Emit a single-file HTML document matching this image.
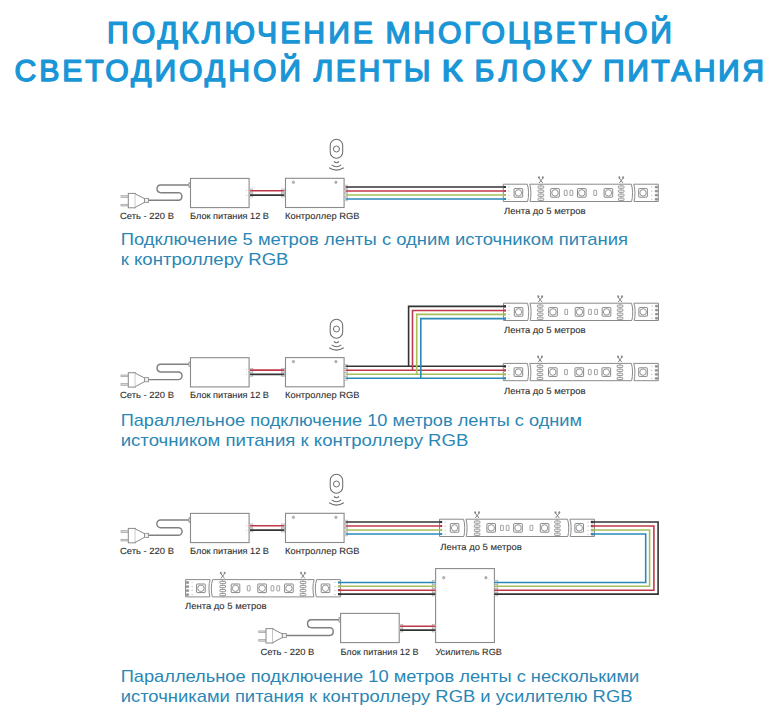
<!DOCTYPE html>
<html><head><meta charset="utf-8"><style>
html,body{margin:0;padding:0;background:#fff;}
body{width:778px;height:720px;overflow:hidden;}
svg{display:block;}
text{font-family:"Liberation Sans", sans-serif;}
</style></head><body>
<svg width="778" height="720" viewBox="0 0 778 720" font-family="Liberation Sans, sans-serif">
<rect width="778" height="720" fill="#fff"/>
<text x="107.0" y="43.2" font-size="30.2" fill="#1a96d6" font-weight="normal" text-anchor="start" textLength="266.0" lengthAdjust="spacing" stroke="#1a96d6" stroke-width="1.4" stroke-linejoin="round" text-rendering="geometricPrecision">ПОДКЛЮЧЕНИЕ</text>
<text x="385.5" y="43.2" font-size="30.2" fill="#1a96d6" font-weight="normal" text-anchor="start" textLength="286.5" lengthAdjust="spacing" stroke="#1a96d6" stroke-width="1.4" stroke-linejoin="round" text-rendering="geometricPrecision">МНОГОЦВЕТНОЙ</text>
<text x="14.5" y="81.2" font-size="30.2" fill="#1a96d6" font-weight="normal" text-anchor="start" textLength="286.5" lengthAdjust="spacing" stroke="#1a96d6" stroke-width="1.4" stroke-linejoin="round" text-rendering="geometricPrecision">СВЕТОДИОДНОЙ</text>
<text x="313.5" y="81.2" font-size="30.2" fill="#1a96d6" font-weight="normal" text-anchor="start" textLength="117.0" lengthAdjust="spacing" stroke="#1a96d6" stroke-width="1.4" stroke-linejoin="round" text-rendering="geometricPrecision">ЛЕНТЫ</text>
<text x="441.5" y="81.2" font-size="30.2" fill="#1a96d6" font-weight="normal" text-anchor="start" textLength="21.0" lengthAdjust="spacingAndGlyphs" stroke="#1a96d6" stroke-width="1.4" stroke-linejoin="round" text-rendering="geometricPrecision">К</text>
<text x="474.5" y="81.2" font-size="30.2" fill="#1a96d6" font-weight="normal" text-anchor="start" textLength="116.5" lengthAdjust="spacing" stroke="#1a96d6" stroke-width="1.4" stroke-linejoin="round" text-rendering="geometricPrecision">БЛОКУ</text>
<text x="603.0" y="81.2" font-size="30.2" fill="#1a96d6" font-weight="normal" text-anchor="start" textLength="161.0" lengthAdjust="spacing" stroke="#1a96d6" stroke-width="1.4" stroke-linejoin="round" text-rendering="geometricPrecision">ПИТАНИЯ</text>
<rect x="121.00" y="195.70" width="7.30" height="1.70" rx="0" fill="#d8d8d8" stroke="#a0a0a0" stroke-width="0.7"/>
<rect x="121.00" y="204.30" width="7.30" height="1.70" rx="0" fill="#d8d8d8" stroke="#a0a0a0" stroke-width="0.7"/>
<rect x="128.30" y="193.40" width="7.00" height="14.40" rx="0" fill="#fff" stroke="#8a8a8a" stroke-width="1"/>
<path d="M135.30,193.90 L144.60,198.70 L144.60,202.30 L135.30,207.30" fill="#fff" stroke="#8a8a8a" stroke-width="1" />
<rect x="144.60" y="198.30" width="4.00" height="4.20" rx="0" fill="#eee" stroke="#8a8a8a" stroke-width="0.8"/>
<path d="M148.60,200.30 H178.27 A3.83,3.83 0 0 0 178.27,192.65 H160.68 A3.83,3.83 0 0 1 160.68,185.00 H190.50" fill="none" stroke="#808080" stroke-width="1.45" />
<rect x="188.90" y="182.80" width="1.60" height="4.40" rx="0" fill="#eee" stroke="#8a8a8a" stroke-width="0.7"/>
<rect x="190.50" y="178.40" width="58.60" height="29.20" rx="0" fill="#fff" stroke="#8a8a8a" stroke-width="1.1"/>
<circle cx="246.6" cy="190.50" r="0.45" fill="#999"/>
<circle cx="246.6" cy="195.50" r="0.45" fill="#999"/>
<rect x="249.60" y="188.95" width="3.20" height="3.70" rx="0" fill="#f3f3f3" stroke="#a4a4a4" stroke-width="0.6"/>
<rect x="249.60" y="193.25" width="3.20" height="3.70" rx="0" fill="#f3f3f3" stroke="#a4a4a4" stroke-width="0.6"/>
<rect x="281.60" y="188.95" width="3.20" height="3.70" rx="0" fill="#f3f3f3" stroke="#a4a4a4" stroke-width="0.6"/>
<rect x="281.60" y="193.25" width="3.20" height="3.70" rx="0" fill="#f3f3f3" stroke="#a4a4a4" stroke-width="0.6"/>
<line x1="250.00" y1="190.80" x2="284.20" y2="190.80" stroke="#c0394a" stroke-width="1.6"/>
<line x1="250.00" y1="195.10" x2="284.20" y2="195.10" stroke="#333333" stroke-width="1.6"/>
<rect x="285.50" y="178.30" width="58.60" height="29.20" rx="0" fill="#fff" stroke="#8a8a8a" stroke-width="1.1"/>
<circle cx="293.40" cy="182.30" r="1.15" fill="#c8c8c8" stroke="#888" stroke-width="0.7"/>
<circle cx="335.90" cy="182.30" r="1.15" fill="#c8c8c8" stroke="#888" stroke-width="0.7"/>
<rect x="344.20" y="185.15" width="3.20" height="3.70" rx="0" fill="#f3f3f3" stroke="#a4a4a4" stroke-width="0.6"/>
<rect x="344.20" y="189.15" width="3.20" height="3.70" rx="0" fill="#f3f3f3" stroke="#a4a4a4" stroke-width="0.6"/>
<rect x="344.20" y="193.15" width="3.20" height="3.70" rx="0" fill="#f3f3f3" stroke="#a4a4a4" stroke-width="0.6"/>
<rect x="344.20" y="197.15" width="3.20" height="3.70" rx="0" fill="#f3f3f3" stroke="#a4a4a4" stroke-width="0.6"/>
<rect x="330.20" y="139.30" width="12.50" height="19.00" rx="6.25" fill="#fff" stroke="#6e6e6e" stroke-width="1.05"/>
<circle cx="336.45" cy="149.00" r="3.0" fill="none" stroke="#6e6e6e" stroke-width="1.0"/>
<path d="M333.95,161.50 Q336.45,163.90 338.95,161.50" fill="none" stroke="#6e6e6e" stroke-width="1.05" />
<path d="M331.65,164.90 Q336.45,168.50 341.25,164.90" fill="none" stroke="#6e6e6e" stroke-width="1.05" />
<path d="M329.15,167.70 Q336.45,172.50 343.75,167.70" fill="none" stroke="#6e6e6e" stroke-width="1.05" />
<text x="120.0" y="218.8" font-size="9.0" fill="#2e2e2e" font-weight="normal" text-anchor="start" textLength="54" lengthAdjust="spacingAndGlyphs" stroke="#2e2e2e" stroke-width="0.1" text-rendering="geometricPrecision">Сеть - 220 В</text>
<text x="190.0" y="218.8" font-size="9.0" fill="#2e2e2e" font-weight="normal" text-anchor="start" textLength="79" lengthAdjust="spacingAndGlyphs" stroke="#2e2e2e" stroke-width="0.1" text-rendering="geometricPrecision">Блок питания 12 В</text>
<text x="285.0" y="218.8" font-size="9.0" fill="#2e2e2e" font-weight="normal" text-anchor="start" textLength="74.5" lengthAdjust="spacingAndGlyphs" stroke="#2e2e2e" stroke-width="0.1" text-rendering="geometricPrecision">Контроллер RGB</text>
<g transform="translate(503.30,184.20)">
<path d="M0,0 H24.0 C25.6,4 25.6,13 24.3,17.3 H0 Z" fill="#fff" stroke="#8a8a8a" stroke-width="1.0" />
<path d="M26.4,0 H128.0 C129.6,4 129.6,13 128.3,17.3 H26.7 C28.0,13 28.0,4 26.4,0 Z" fill="#fff" stroke="#8a8a8a" stroke-width="1.0" />
<path d="M130.4,0 H155 V17.3 H130.7 C132.0,13 132.0,4 130.4,0 Z" fill="#fff" stroke="#8a8a8a" stroke-width="1.0" />
<circle cx="5.6" cy="2.90" r="0.55" fill="#aaa"/>
<circle cx="5.6" cy="6.95" r="0.55" fill="#aaa"/>
<circle cx="5.6" cy="11.00" r="0.55" fill="#aaa"/>
<circle cx="5.6" cy="15.05" r="0.55" fill="#aaa"/>
<circle cx="148.5" cy="2.90" r="0.55" fill="#aaa"/>
<rect x="151.90" y="2.00" width="2.40" height="1.80" rx="0.3" fill="#999" stroke="#777" stroke-width="0.5"/>
<circle cx="148.5" cy="6.95" r="0.55" fill="#aaa"/>
<rect x="151.90" y="6.05" width="2.40" height="1.80" rx="0.3" fill="#999" stroke="#777" stroke-width="0.5"/>
<circle cx="148.5" cy="11.00" r="0.55" fill="#aaa"/>
<rect x="151.90" y="10.10" width="2.40" height="1.80" rx="0.3" fill="#999" stroke="#777" stroke-width="0.5"/>
<circle cx="148.5" cy="15.05" r="0.55" fill="#aaa"/>
<rect x="151.90" y="14.15" width="2.40" height="1.80" rx="0.3" fill="#999" stroke="#777" stroke-width="0.5"/>
<rect x="10.80" y="4.40" width="8.60" height="8.60" rx="0.6" fill="#fff" stroke="#7a7a7a" stroke-width="0.9"/>
<circle cx="15.10" cy="8.70" r="3.20" fill="none" stroke="#8a8a8a" stroke-width="0.9"/>
<line x1="37.60" y1="0.00" x2="37.60" y2="17.30" stroke="#999" stroke-width="0.7"/>
<rect x="34.80" y="1.80" width="5.60" height="2.20" rx="0.5" fill="#fff" stroke="#7e7e7e" stroke-width="0.8"/>
<rect x="34.80" y="5.85" width="5.60" height="2.20" rx="0.5" fill="#fff" stroke="#7e7e7e" stroke-width="0.8"/>
<rect x="34.80" y="9.90" width="5.60" height="2.20" rx="0.5" fill="#fff" stroke="#7e7e7e" stroke-width="0.8"/>
<rect x="34.80" y="13.95" width="5.60" height="2.20" rx="0.5" fill="#fff" stroke="#7e7e7e" stroke-width="0.8"/>
<line x1="117.90" y1="0.00" x2="117.90" y2="17.30" stroke="#999" stroke-width="0.7"/>
<rect x="115.10" y="1.80" width="5.60" height="2.20" rx="0.5" fill="#fff" stroke="#7e7e7e" stroke-width="0.8"/>
<rect x="115.10" y="5.85" width="5.60" height="2.20" rx="0.5" fill="#fff" stroke="#7e7e7e" stroke-width="0.8"/>
<rect x="115.10" y="9.90" width="5.60" height="2.20" rx="0.5" fill="#fff" stroke="#7e7e7e" stroke-width="0.8"/>
<rect x="115.10" y="13.95" width="5.60" height="2.20" rx="0.5" fill="#fff" stroke="#7e7e7e" stroke-width="0.8"/>
<rect x="47.40" y="4.40" width="8.60" height="8.60" rx="0.6" fill="#fff" stroke="#7a7a7a" stroke-width="0.9"/>
<circle cx="51.70" cy="8.70" r="3.20" fill="none" stroke="#8a8a8a" stroke-width="0.9"/>
<rect x="74.20" y="4.40" width="8.60" height="8.60" rx="0.6" fill="#fff" stroke="#7a7a7a" stroke-width="0.9"/>
<circle cx="78.50" cy="8.70" r="3.20" fill="none" stroke="#8a8a8a" stroke-width="0.9"/>
<rect x="100.80" y="4.40" width="8.60" height="8.60" rx="0.6" fill="#fff" stroke="#7a7a7a" stroke-width="0.9"/>
<circle cx="105.10" cy="8.70" r="3.20" fill="none" stroke="#8a8a8a" stroke-width="0.9"/>
<rect x="61.00" y="6.10" width="2.80" height="5.20" rx="0.5" fill="#fff" stroke="#8a8a8a" stroke-width="0.8"/>
<rect x="66.70" y="6.10" width="2.80" height="5.20" rx="0.5" fill="#fff" stroke="#8a8a8a" stroke-width="0.8"/>
<rect x="90.50" y="6.10" width="2.80" height="5.20" rx="0.5" fill="#fff" stroke="#8a8a8a" stroke-width="0.8"/>
<rect x="135.40" y="4.40" width="8.60" height="8.60" rx="0.6" fill="#fff" stroke="#7a7a7a" stroke-width="0.9"/>
<circle cx="139.70" cy="8.70" r="3.20" fill="none" stroke="#8a8a8a" stroke-width="0.9"/>
<path d="M35.60,-6.20 L39.40,-1.20 M39.60,-6.20 L35.80,-1.20" fill="none" stroke="#777" stroke-width="0.9" />
<ellipse cx="35.70" cy="-6.70" rx="1.0" ry="1.2" fill="#8a8a8a"/>
<ellipse cx="39.50" cy="-6.70" rx="1.0" ry="1.2" fill="#8a8a8a"/>
<path d="M115.90,-6.20 L119.70,-1.20 M119.90,-6.20 L116.10,-1.20" fill="none" stroke="#777" stroke-width="0.9" />
<ellipse cx="116.00" cy="-6.70" rx="1.0" ry="1.2" fill="#8a8a8a"/>
<ellipse cx="119.80" cy="-6.70" rx="1.0" ry="1.2" fill="#8a8a8a"/>
</g>
<line x1="345.50" y1="187.00" x2="505.60" y2="187.00" stroke="#333333" stroke-width="1.6"/>
<line x1="504.00" y1="187.00" x2="506.00" y2="187.00" stroke="#333333" stroke-width="2.2"/>
<line x1="345.50" y1="191.00" x2="505.60" y2="191.00" stroke="#c0394a" stroke-width="1.6"/>
<line x1="504.00" y1="191.00" x2="506.00" y2="191.00" stroke="#c0394a" stroke-width="2.2"/>
<line x1="345.50" y1="195.00" x2="505.60" y2="195.00" stroke="#a6bf5c" stroke-width="1.6"/>
<line x1="504.00" y1="195.00" x2="506.00" y2="195.00" stroke="#a6bf5c" stroke-width="2.2"/>
<line x1="345.50" y1="199.00" x2="505.60" y2="199.00" stroke="#2b89b6" stroke-width="1.6"/>
<line x1="504.00" y1="199.00" x2="506.00" y2="199.00" stroke="#2b89b6" stroke-width="2.2"/>
<text x="504.0" y="214.4" font-size="9.0" fill="#2e2e2e" font-weight="normal" text-anchor="start" textLength="81.5" lengthAdjust="spacingAndGlyphs" stroke="#2e2e2e" stroke-width="0.1" text-rendering="geometricPrecision">Лента до 5 метров</text>
<text x="120.7" y="244.8" font-size="16.2" fill="#2a87b5" font-weight="normal" text-anchor="start" textLength="507.3" lengthAdjust="spacingAndGlyphs">Подключение 5 метров ленты с одним источником питания</text>
<text x="120.7" y="265.3" font-size="16.2" fill="#2a87b5" font-weight="normal" text-anchor="start" textLength="167.8" lengthAdjust="spacingAndGlyphs">к контроллеру RGB</text>
<rect x="121.00" y="375.00" width="7.30" height="1.70" rx="0" fill="#d8d8d8" stroke="#a0a0a0" stroke-width="0.7"/>
<rect x="121.00" y="383.60" width="7.30" height="1.70" rx="0" fill="#d8d8d8" stroke="#a0a0a0" stroke-width="0.7"/>
<rect x="128.30" y="372.70" width="7.00" height="14.40" rx="0" fill="#fff" stroke="#8a8a8a" stroke-width="1"/>
<path d="M135.30,373.20 L144.60,378.00 L144.60,381.60 L135.30,386.60" fill="#fff" stroke="#8a8a8a" stroke-width="1" />
<rect x="144.60" y="377.60" width="4.00" height="4.20" rx="0" fill="#eee" stroke="#8a8a8a" stroke-width="0.8"/>
<path d="M148.60,379.60 H178.28 A3.82,3.82 0 0 0 178.28,371.95 H160.68 A3.83,3.83 0 0 1 160.68,364.30 H190.50" fill="none" stroke="#808080" stroke-width="1.45" />
<rect x="188.90" y="362.10" width="1.60" height="4.40" rx="0" fill="#eee" stroke="#8a8a8a" stroke-width="0.7"/>
<rect x="190.50" y="357.70" width="58.60" height="29.20" rx="0" fill="#fff" stroke="#8a8a8a" stroke-width="1.1"/>
<circle cx="246.6" cy="369.80" r="0.45" fill="#999"/>
<circle cx="246.6" cy="374.80" r="0.45" fill="#999"/>
<rect x="249.60" y="368.25" width="3.20" height="3.70" rx="0" fill="#f3f3f3" stroke="#a4a4a4" stroke-width="0.6"/>
<rect x="249.60" y="372.55" width="3.20" height="3.70" rx="0" fill="#f3f3f3" stroke="#a4a4a4" stroke-width="0.6"/>
<rect x="281.60" y="368.25" width="3.20" height="3.70" rx="0" fill="#f3f3f3" stroke="#a4a4a4" stroke-width="0.6"/>
<rect x="281.60" y="372.55" width="3.20" height="3.70" rx="0" fill="#f3f3f3" stroke="#a4a4a4" stroke-width="0.6"/>
<line x1="250.00" y1="370.10" x2="284.20" y2="370.10" stroke="#c0394a" stroke-width="1.6"/>
<line x1="250.00" y1="374.40" x2="284.20" y2="374.40" stroke="#333333" stroke-width="1.6"/>
<rect x="285.50" y="357.60" width="58.60" height="29.20" rx="0" fill="#fff" stroke="#8a8a8a" stroke-width="1.1"/>
<circle cx="293.40" cy="361.60" r="1.15" fill="#c8c8c8" stroke="#888" stroke-width="0.7"/>
<circle cx="335.90" cy="361.60" r="1.15" fill="#c8c8c8" stroke="#888" stroke-width="0.7"/>
<rect x="344.20" y="364.45" width="3.20" height="3.70" rx="0" fill="#f3f3f3" stroke="#a4a4a4" stroke-width="0.6"/>
<rect x="344.20" y="368.45" width="3.20" height="3.70" rx="0" fill="#f3f3f3" stroke="#a4a4a4" stroke-width="0.6"/>
<rect x="344.20" y="372.45" width="3.20" height="3.70" rx="0" fill="#f3f3f3" stroke="#a4a4a4" stroke-width="0.6"/>
<rect x="344.20" y="376.45" width="3.20" height="3.70" rx="0" fill="#f3f3f3" stroke="#a4a4a4" stroke-width="0.6"/>
<rect x="330.20" y="319.30" width="12.50" height="19.00" rx="6.25" fill="#fff" stroke="#6e6e6e" stroke-width="1.05"/>
<circle cx="336.45" cy="329.00" r="3.0" fill="none" stroke="#6e6e6e" stroke-width="1.0"/>
<path d="M333.95,341.50 Q336.45,343.90 338.95,341.50" fill="none" stroke="#6e6e6e" stroke-width="1.05" />
<path d="M331.65,344.90 Q336.45,348.50 341.25,344.90" fill="none" stroke="#6e6e6e" stroke-width="1.05" />
<path d="M329.15,347.70 Q336.45,352.50 343.75,347.70" fill="none" stroke="#6e6e6e" stroke-width="1.05" />
<text x="120.0" y="398.1" font-size="9.0" fill="#2e2e2e" font-weight="normal" text-anchor="start" textLength="54" lengthAdjust="spacingAndGlyphs" stroke="#2e2e2e" stroke-width="0.1" text-rendering="geometricPrecision">Сеть - 220 В</text>
<text x="190.0" y="398.1" font-size="9.0" fill="#2e2e2e" font-weight="normal" text-anchor="start" textLength="79" lengthAdjust="spacingAndGlyphs" stroke="#2e2e2e" stroke-width="0.1" text-rendering="geometricPrecision">Блок питания 12 В</text>
<text x="285.0" y="398.1" font-size="9.0" fill="#2e2e2e" font-weight="normal" text-anchor="start" textLength="74.5" lengthAdjust="spacingAndGlyphs" stroke="#2e2e2e" stroke-width="0.1" text-rendering="geometricPrecision">Контроллер RGB</text>
<g transform="translate(503.50,303.20)">
<path d="M0,0 H24.0 C25.6,4 25.6,13 24.3,17.3 H0 Z" fill="#fff" stroke="#8a8a8a" stroke-width="1.0" />
<path d="M26.4,0 H128.0 C129.6,4 129.6,13 128.3,17.3 H26.7 C28.0,13 28.0,4 26.4,0 Z" fill="#fff" stroke="#8a8a8a" stroke-width="1.0" />
<path d="M130.4,0 H155 V17.3 H130.7 C132.0,13 132.0,4 130.4,0 Z" fill="#fff" stroke="#8a8a8a" stroke-width="1.0" />
<circle cx="5.6" cy="2.90" r="0.55" fill="#aaa"/>
<circle cx="5.6" cy="6.95" r="0.55" fill="#aaa"/>
<circle cx="5.6" cy="11.00" r="0.55" fill="#aaa"/>
<circle cx="5.6" cy="15.05" r="0.55" fill="#aaa"/>
<circle cx="148.5" cy="2.90" r="0.55" fill="#aaa"/>
<rect x="151.90" y="2.00" width="2.40" height="1.80" rx="0.3" fill="#999" stroke="#777" stroke-width="0.5"/>
<circle cx="148.5" cy="6.95" r="0.55" fill="#aaa"/>
<rect x="151.90" y="6.05" width="2.40" height="1.80" rx="0.3" fill="#999" stroke="#777" stroke-width="0.5"/>
<circle cx="148.5" cy="11.00" r="0.55" fill="#aaa"/>
<rect x="151.90" y="10.10" width="2.40" height="1.80" rx="0.3" fill="#999" stroke="#777" stroke-width="0.5"/>
<circle cx="148.5" cy="15.05" r="0.55" fill="#aaa"/>
<rect x="151.90" y="14.15" width="2.40" height="1.80" rx="0.3" fill="#999" stroke="#777" stroke-width="0.5"/>
<rect x="10.80" y="4.40" width="8.60" height="8.60" rx="0.6" fill="#fff" stroke="#7a7a7a" stroke-width="0.9"/>
<circle cx="15.10" cy="8.70" r="3.20" fill="none" stroke="#8a8a8a" stroke-width="0.9"/>
<line x1="36.70" y1="0.00" x2="36.70" y2="17.30" stroke="#999" stroke-width="0.7"/>
<rect x="33.90" y="1.80" width="5.60" height="2.20" rx="0.5" fill="#fff" stroke="#7e7e7e" stroke-width="0.8"/>
<rect x="33.90" y="5.85" width="5.60" height="2.20" rx="0.5" fill="#fff" stroke="#7e7e7e" stroke-width="0.8"/>
<rect x="33.90" y="9.90" width="5.60" height="2.20" rx="0.5" fill="#fff" stroke="#7e7e7e" stroke-width="0.8"/>
<rect x="33.90" y="13.95" width="5.60" height="2.20" rx="0.5" fill="#fff" stroke="#7e7e7e" stroke-width="0.8"/>
<line x1="116.60" y1="0.00" x2="116.60" y2="17.30" stroke="#999" stroke-width="0.7"/>
<rect x="113.80" y="1.80" width="5.60" height="2.20" rx="0.5" fill="#fff" stroke="#7e7e7e" stroke-width="0.8"/>
<rect x="113.80" y="5.85" width="5.60" height="2.20" rx="0.5" fill="#fff" stroke="#7e7e7e" stroke-width="0.8"/>
<rect x="113.80" y="9.90" width="5.60" height="2.20" rx="0.5" fill="#fff" stroke="#7e7e7e" stroke-width="0.8"/>
<rect x="113.80" y="13.95" width="5.60" height="2.20" rx="0.5" fill="#fff" stroke="#7e7e7e" stroke-width="0.8"/>
<rect x="45.20" y="4.40" width="8.60" height="8.60" rx="0.6" fill="#fff" stroke="#7a7a7a" stroke-width="0.9"/>
<circle cx="49.50" cy="8.70" r="3.20" fill="none" stroke="#8a8a8a" stroke-width="0.9"/>
<rect x="71.70" y="4.40" width="8.60" height="8.60" rx="0.6" fill="#fff" stroke="#7a7a7a" stroke-width="0.9"/>
<circle cx="76.00" cy="8.70" r="3.20" fill="none" stroke="#8a8a8a" stroke-width="0.9"/>
<rect x="98.70" y="4.40" width="8.60" height="8.60" rx="0.6" fill="#fff" stroke="#7a7a7a" stroke-width="0.9"/>
<circle cx="103.00" cy="8.70" r="3.20" fill="none" stroke="#8a8a8a" stroke-width="0.9"/>
<rect x="61.30" y="6.10" width="2.80" height="5.20" rx="0.5" fill="#fff" stroke="#8a8a8a" stroke-width="0.8"/>
<rect x="85.10" y="6.10" width="2.80" height="5.20" rx="0.5" fill="#fff" stroke="#8a8a8a" stroke-width="0.8"/>
<rect x="91.20" y="6.10" width="2.80" height="5.20" rx="0.5" fill="#fff" stroke="#8a8a8a" stroke-width="0.8"/>
<rect x="135.40" y="4.40" width="8.60" height="8.60" rx="0.6" fill="#fff" stroke="#7a7a7a" stroke-width="0.9"/>
<circle cx="139.70" cy="8.70" r="3.20" fill="none" stroke="#8a8a8a" stroke-width="0.9"/>
<path d="M34.70,-6.20 L38.50,-1.20 M38.70,-6.20 L34.90,-1.20" fill="none" stroke="#777" stroke-width="0.9" />
<ellipse cx="34.80" cy="-6.70" rx="1.0" ry="1.2" fill="#8a8a8a"/>
<ellipse cx="38.60" cy="-6.70" rx="1.0" ry="1.2" fill="#8a8a8a"/>
<path d="M114.60,-6.20 L118.40,-1.20 M118.60,-6.20 L114.80,-1.20" fill="none" stroke="#777" stroke-width="0.9" />
<ellipse cx="114.70" cy="-6.70" rx="1.0" ry="1.2" fill="#8a8a8a"/>
<ellipse cx="118.50" cy="-6.70" rx="1.0" ry="1.2" fill="#8a8a8a"/>
</g>
<g transform="translate(503.30,363.40)">
<path d="M0,0 H24.0 C25.6,4 25.6,13 24.3,17.3 H0 Z" fill="#fff" stroke="#8a8a8a" stroke-width="1.0" />
<path d="M26.4,0 H128.0 C129.6,4 129.6,13 128.3,17.3 H26.7 C28.0,13 28.0,4 26.4,0 Z" fill="#fff" stroke="#8a8a8a" stroke-width="1.0" />
<path d="M130.4,0 H155 V17.3 H130.7 C132.0,13 132.0,4 130.4,0 Z" fill="#fff" stroke="#8a8a8a" stroke-width="1.0" />
<circle cx="5.6" cy="2.90" r="0.55" fill="#aaa"/>
<circle cx="5.6" cy="6.95" r="0.55" fill="#aaa"/>
<circle cx="5.6" cy="11.00" r="0.55" fill="#aaa"/>
<circle cx="5.6" cy="15.05" r="0.55" fill="#aaa"/>
<circle cx="148.5" cy="2.90" r="0.55" fill="#aaa"/>
<rect x="151.90" y="2.00" width="2.40" height="1.80" rx="0.3" fill="#999" stroke="#777" stroke-width="0.5"/>
<circle cx="148.5" cy="6.95" r="0.55" fill="#aaa"/>
<rect x="151.90" y="6.05" width="2.40" height="1.80" rx="0.3" fill="#999" stroke="#777" stroke-width="0.5"/>
<circle cx="148.5" cy="11.00" r="0.55" fill="#aaa"/>
<rect x="151.90" y="10.10" width="2.40" height="1.80" rx="0.3" fill="#999" stroke="#777" stroke-width="0.5"/>
<circle cx="148.5" cy="15.05" r="0.55" fill="#aaa"/>
<rect x="151.90" y="14.15" width="2.40" height="1.80" rx="0.3" fill="#999" stroke="#777" stroke-width="0.5"/>
<rect x="10.80" y="4.40" width="8.60" height="8.60" rx="0.6" fill="#fff" stroke="#7a7a7a" stroke-width="0.9"/>
<circle cx="15.10" cy="8.70" r="3.20" fill="none" stroke="#8a8a8a" stroke-width="0.9"/>
<line x1="36.70" y1="0.00" x2="36.70" y2="17.30" stroke="#999" stroke-width="0.7"/>
<rect x="33.90" y="1.80" width="5.60" height="2.20" rx="0.5" fill="#fff" stroke="#7e7e7e" stroke-width="0.8"/>
<rect x="33.90" y="5.85" width="5.60" height="2.20" rx="0.5" fill="#fff" stroke="#7e7e7e" stroke-width="0.8"/>
<rect x="33.90" y="9.90" width="5.60" height="2.20" rx="0.5" fill="#fff" stroke="#7e7e7e" stroke-width="0.8"/>
<rect x="33.90" y="13.95" width="5.60" height="2.20" rx="0.5" fill="#fff" stroke="#7e7e7e" stroke-width="0.8"/>
<line x1="116.60" y1="0.00" x2="116.60" y2="17.30" stroke="#999" stroke-width="0.7"/>
<rect x="113.80" y="1.80" width="5.60" height="2.20" rx="0.5" fill="#fff" stroke="#7e7e7e" stroke-width="0.8"/>
<rect x="113.80" y="5.85" width="5.60" height="2.20" rx="0.5" fill="#fff" stroke="#7e7e7e" stroke-width="0.8"/>
<rect x="113.80" y="9.90" width="5.60" height="2.20" rx="0.5" fill="#fff" stroke="#7e7e7e" stroke-width="0.8"/>
<rect x="113.80" y="13.95" width="5.60" height="2.20" rx="0.5" fill="#fff" stroke="#7e7e7e" stroke-width="0.8"/>
<rect x="45.20" y="4.40" width="8.60" height="8.60" rx="0.6" fill="#fff" stroke="#7a7a7a" stroke-width="0.9"/>
<circle cx="49.50" cy="8.70" r="3.20" fill="none" stroke="#8a8a8a" stroke-width="0.9"/>
<rect x="71.70" y="4.40" width="8.60" height="8.60" rx="0.6" fill="#fff" stroke="#7a7a7a" stroke-width="0.9"/>
<circle cx="76.00" cy="8.70" r="3.20" fill="none" stroke="#8a8a8a" stroke-width="0.9"/>
<rect x="98.70" y="4.40" width="8.60" height="8.60" rx="0.6" fill="#fff" stroke="#7a7a7a" stroke-width="0.9"/>
<circle cx="103.00" cy="8.70" r="3.20" fill="none" stroke="#8a8a8a" stroke-width="0.9"/>
<rect x="61.30" y="6.10" width="2.80" height="5.20" rx="0.5" fill="#fff" stroke="#8a8a8a" stroke-width="0.8"/>
<rect x="85.10" y="6.10" width="2.80" height="5.20" rx="0.5" fill="#fff" stroke="#8a8a8a" stroke-width="0.8"/>
<rect x="91.20" y="6.10" width="2.80" height="5.20" rx="0.5" fill="#fff" stroke="#8a8a8a" stroke-width="0.8"/>
<rect x="135.40" y="4.40" width="8.60" height="8.60" rx="0.6" fill="#fff" stroke="#7a7a7a" stroke-width="0.9"/>
<circle cx="139.70" cy="8.70" r="3.20" fill="none" stroke="#8a8a8a" stroke-width="0.9"/>
<path d="M34.70,-6.20 L38.50,-1.20 M38.70,-6.20 L34.90,-1.20" fill="none" stroke="#777" stroke-width="0.9" />
<ellipse cx="34.80" cy="-6.70" rx="1.0" ry="1.2" fill="#8a8a8a"/>
<ellipse cx="38.60" cy="-6.70" rx="1.0" ry="1.2" fill="#8a8a8a"/>
<path d="M114.60,-6.20 L118.40,-1.20 M118.60,-6.20 L114.80,-1.20" fill="none" stroke="#777" stroke-width="0.9" />
<ellipse cx="114.70" cy="-6.70" rx="1.0" ry="1.2" fill="#8a8a8a"/>
<ellipse cx="118.50" cy="-6.70" rx="1.0" ry="1.2" fill="#8a8a8a"/>
</g>
<line x1="345.50" y1="366.30" x2="505.60" y2="366.30" stroke="#333333" stroke-width="1.6"/>
<line x1="504.00" y1="366.30" x2="506.00" y2="366.30" stroke="#333333" stroke-width="2.2"/>
<line x1="345.50" y1="370.30" x2="505.60" y2="370.30" stroke="#c0394a" stroke-width="1.6"/>
<line x1="504.00" y1="370.30" x2="506.00" y2="370.30" stroke="#c0394a" stroke-width="2.2"/>
<line x1="345.50" y1="374.30" x2="505.60" y2="374.30" stroke="#a6bf5c" stroke-width="1.6"/>
<line x1="504.00" y1="374.30" x2="506.00" y2="374.30" stroke="#a6bf5c" stroke-width="2.2"/>
<line x1="345.50" y1="378.30" x2="505.60" y2="378.30" stroke="#2b89b6" stroke-width="1.6"/>
<line x1="504.00" y1="378.30" x2="506.00" y2="378.30" stroke="#2b89b6" stroke-width="2.2"/>
<path d="M408.60,366.30 V306.40 H505.6" fill="none" stroke="#333333" stroke-width="1.6" />
<line x1="504.00" y1="306.40" x2="506.00" y2="306.40" stroke="#333333" stroke-width="2.2"/>
<path d="M412.50,370.30 V310.50 H505.6" fill="none" stroke="#c0394a" stroke-width="1.6" />
<line x1="504.00" y1="310.50" x2="506.00" y2="310.50" stroke="#c0394a" stroke-width="2.2"/>
<path d="M416.70,374.30 V314.40 H505.6" fill="none" stroke="#a6bf5c" stroke-width="1.6" />
<line x1="504.00" y1="314.40" x2="506.00" y2="314.40" stroke="#a6bf5c" stroke-width="2.2"/>
<path d="M420.80,378.30 V318.60 H505.6" fill="none" stroke="#2b89b6" stroke-width="1.6" />
<line x1="504.00" y1="318.60" x2="506.00" y2="318.60" stroke="#2b89b6" stroke-width="2.2"/>
<text x="504.0" y="333.1" font-size="9.0" fill="#2e2e2e" font-weight="normal" text-anchor="start" textLength="81.5" lengthAdjust="spacingAndGlyphs" stroke="#2e2e2e" stroke-width="0.1" text-rendering="geometricPrecision">Лента до 5 метров</text>
<text x="504.0" y="393.7" font-size="9.0" fill="#2e2e2e" font-weight="normal" text-anchor="start" textLength="81.5" lengthAdjust="spacingAndGlyphs" stroke="#2e2e2e" stroke-width="0.1" text-rendering="geometricPrecision">Лента до 5 метров</text>
<text x="120.7" y="425.7" font-size="16.2" fill="#2a87b5" font-weight="normal" text-anchor="start" textLength="461.3" lengthAdjust="spacingAndGlyphs">Параллельное подключение 10 метров ленты с одним</text>
<text x="120.7" y="445.6" font-size="16.2" fill="#2a87b5" font-weight="normal" text-anchor="start" textLength="347.7" lengthAdjust="spacingAndGlyphs">источником питания к контроллеру RGB</text>
<rect x="121.00" y="530.70" width="7.30" height="1.70" rx="0" fill="#d8d8d8" stroke="#a0a0a0" stroke-width="0.7"/>
<rect x="121.00" y="539.30" width="7.30" height="1.70" rx="0" fill="#d8d8d8" stroke="#a0a0a0" stroke-width="0.7"/>
<rect x="128.30" y="528.40" width="7.00" height="14.40" rx="0" fill="#fff" stroke="#8a8a8a" stroke-width="1"/>
<path d="M135.30,528.90 L144.60,533.70 L144.60,537.30 L135.30,542.30" fill="#fff" stroke="#8a8a8a" stroke-width="1" />
<rect x="144.60" y="533.30" width="4.00" height="4.20" rx="0" fill="#eee" stroke="#8a8a8a" stroke-width="0.8"/>
<path d="M148.60,535.30 H178.28 A3.82,3.82 0 0 0 178.28,527.65 H160.67 A3.82,3.82 0 0 1 160.67,520.00 H190.50" fill="none" stroke="#808080" stroke-width="1.45" />
<rect x="188.90" y="517.80" width="1.60" height="4.40" rx="0" fill="#eee" stroke="#8a8a8a" stroke-width="0.7"/>
<rect x="190.50" y="513.40" width="58.60" height="29.20" rx="0" fill="#fff" stroke="#8a8a8a" stroke-width="1.1"/>
<circle cx="246.6" cy="525.50" r="0.45" fill="#999"/>
<circle cx="246.6" cy="530.50" r="0.45" fill="#999"/>
<rect x="249.60" y="523.95" width="3.20" height="3.70" rx="0" fill="#f3f3f3" stroke="#a4a4a4" stroke-width="0.6"/>
<rect x="249.60" y="528.25" width="3.20" height="3.70" rx="0" fill="#f3f3f3" stroke="#a4a4a4" stroke-width="0.6"/>
<rect x="281.60" y="523.95" width="3.20" height="3.70" rx="0" fill="#f3f3f3" stroke="#a4a4a4" stroke-width="0.6"/>
<rect x="281.60" y="528.25" width="3.20" height="3.70" rx="0" fill="#f3f3f3" stroke="#a4a4a4" stroke-width="0.6"/>
<line x1="250.00" y1="525.80" x2="284.20" y2="525.80" stroke="#c0394a" stroke-width="1.6"/>
<line x1="250.00" y1="530.10" x2="284.20" y2="530.10" stroke="#333333" stroke-width="1.6"/>
<rect x="285.50" y="513.30" width="58.60" height="29.20" rx="0" fill="#fff" stroke="#8a8a8a" stroke-width="1.1"/>
<circle cx="293.40" cy="517.30" r="1.15" fill="#c8c8c8" stroke="#888" stroke-width="0.7"/>
<circle cx="335.90" cy="517.30" r="1.15" fill="#c8c8c8" stroke="#888" stroke-width="0.7"/>
<rect x="344.20" y="520.15" width="3.20" height="3.70" rx="0" fill="#f3f3f3" stroke="#a4a4a4" stroke-width="0.6"/>
<rect x="344.20" y="524.15" width="3.20" height="3.70" rx="0" fill="#f3f3f3" stroke="#a4a4a4" stroke-width="0.6"/>
<rect x="344.20" y="528.15" width="3.20" height="3.70" rx="0" fill="#f3f3f3" stroke="#a4a4a4" stroke-width="0.6"/>
<rect x="344.20" y="532.15" width="3.20" height="3.70" rx="0" fill="#f3f3f3" stroke="#a4a4a4" stroke-width="0.6"/>
<rect x="330.20" y="474.30" width="12.50" height="19.00" rx="6.25" fill="#fff" stroke="#6e6e6e" stroke-width="1.05"/>
<circle cx="336.45" cy="484.00" r="3.0" fill="none" stroke="#6e6e6e" stroke-width="1.0"/>
<path d="M333.95,496.50 Q336.45,498.90 338.95,496.50" fill="none" stroke="#6e6e6e" stroke-width="1.05" />
<path d="M331.65,499.90 Q336.45,503.50 341.25,499.90" fill="none" stroke="#6e6e6e" stroke-width="1.05" />
<path d="M329.15,502.70 Q336.45,507.50 343.75,502.70" fill="none" stroke="#6e6e6e" stroke-width="1.05" />
<text x="120.0" y="553.8" font-size="9.0" fill="#2e2e2e" font-weight="normal" text-anchor="start" textLength="54" lengthAdjust="spacingAndGlyphs" stroke="#2e2e2e" stroke-width="0.1" text-rendering="geometricPrecision">Сеть - 220 В</text>
<text x="190.0" y="553.8" font-size="9.0" fill="#2e2e2e" font-weight="normal" text-anchor="start" textLength="79" lengthAdjust="spacingAndGlyphs" stroke="#2e2e2e" stroke-width="0.1" text-rendering="geometricPrecision">Блок питания 12 В</text>
<text x="285.0" y="553.8" font-size="9.0" fill="#2e2e2e" font-weight="normal" text-anchor="start" textLength="74.5" lengthAdjust="spacingAndGlyphs" stroke="#2e2e2e" stroke-width="0.1" text-rendering="geometricPrecision">Контроллер RGB</text>
<g transform="translate(439.50,519.20)">
<path d="M0,0 H24.0 C25.6,4 25.6,13 24.3,17.3 H0 Z" fill="#fff" stroke="#8a8a8a" stroke-width="1.0" />
<path d="M26.4,0 H128.0 C129.6,4 129.6,13 128.3,17.3 H26.7 C28.0,13 28.0,4 26.4,0 Z" fill="#fff" stroke="#8a8a8a" stroke-width="1.0" />
<path d="M130.4,0 H155 V17.3 H130.7 C132.0,13 132.0,4 130.4,0 Z" fill="#fff" stroke="#8a8a8a" stroke-width="1.0" />
<circle cx="5.6" cy="2.90" r="0.55" fill="#aaa"/>
<circle cx="5.6" cy="6.95" r="0.55" fill="#aaa"/>
<circle cx="5.6" cy="11.00" r="0.55" fill="#aaa"/>
<circle cx="5.6" cy="15.05" r="0.55" fill="#aaa"/>
<circle cx="148.5" cy="2.90" r="0.55" fill="#aaa"/>
<rect x="151.90" y="2.00" width="2.40" height="1.80" rx="0.3" fill="#999" stroke="#777" stroke-width="0.5"/>
<circle cx="148.5" cy="6.95" r="0.55" fill="#aaa"/>
<rect x="151.90" y="6.05" width="2.40" height="1.80" rx="0.3" fill="#999" stroke="#777" stroke-width="0.5"/>
<circle cx="148.5" cy="11.00" r="0.55" fill="#aaa"/>
<rect x="151.90" y="10.10" width="2.40" height="1.80" rx="0.3" fill="#999" stroke="#777" stroke-width="0.5"/>
<circle cx="148.5" cy="15.05" r="0.55" fill="#aaa"/>
<rect x="151.90" y="14.15" width="2.40" height="1.80" rx="0.3" fill="#999" stroke="#777" stroke-width="0.5"/>
<rect x="10.80" y="4.40" width="8.60" height="8.60" rx="0.6" fill="#fff" stroke="#7a7a7a" stroke-width="0.9"/>
<circle cx="15.10" cy="8.70" r="3.20" fill="none" stroke="#8a8a8a" stroke-width="0.9"/>
<line x1="37.60" y1="0.00" x2="37.60" y2="17.30" stroke="#999" stroke-width="0.7"/>
<rect x="34.80" y="1.80" width="5.60" height="2.20" rx="0.5" fill="#fff" stroke="#7e7e7e" stroke-width="0.8"/>
<rect x="34.80" y="5.85" width="5.60" height="2.20" rx="0.5" fill="#fff" stroke="#7e7e7e" stroke-width="0.8"/>
<rect x="34.80" y="9.90" width="5.60" height="2.20" rx="0.5" fill="#fff" stroke="#7e7e7e" stroke-width="0.8"/>
<rect x="34.80" y="13.95" width="5.60" height="2.20" rx="0.5" fill="#fff" stroke="#7e7e7e" stroke-width="0.8"/>
<line x1="117.90" y1="0.00" x2="117.90" y2="17.30" stroke="#999" stroke-width="0.7"/>
<rect x="115.10" y="1.80" width="5.60" height="2.20" rx="0.5" fill="#fff" stroke="#7e7e7e" stroke-width="0.8"/>
<rect x="115.10" y="5.85" width="5.60" height="2.20" rx="0.5" fill="#fff" stroke="#7e7e7e" stroke-width="0.8"/>
<rect x="115.10" y="9.90" width="5.60" height="2.20" rx="0.5" fill="#fff" stroke="#7e7e7e" stroke-width="0.8"/>
<rect x="115.10" y="13.95" width="5.60" height="2.20" rx="0.5" fill="#fff" stroke="#7e7e7e" stroke-width="0.8"/>
<rect x="47.40" y="4.40" width="8.60" height="8.60" rx="0.6" fill="#fff" stroke="#7a7a7a" stroke-width="0.9"/>
<circle cx="51.70" cy="8.70" r="3.20" fill="none" stroke="#8a8a8a" stroke-width="0.9"/>
<rect x="74.20" y="4.40" width="8.60" height="8.60" rx="0.6" fill="#fff" stroke="#7a7a7a" stroke-width="0.9"/>
<circle cx="78.50" cy="8.70" r="3.20" fill="none" stroke="#8a8a8a" stroke-width="0.9"/>
<rect x="100.80" y="4.40" width="8.60" height="8.60" rx="0.6" fill="#fff" stroke="#7a7a7a" stroke-width="0.9"/>
<circle cx="105.10" cy="8.70" r="3.20" fill="none" stroke="#8a8a8a" stroke-width="0.9"/>
<rect x="61.00" y="6.10" width="2.80" height="5.20" rx="0.5" fill="#fff" stroke="#8a8a8a" stroke-width="0.8"/>
<rect x="66.70" y="6.10" width="2.80" height="5.20" rx="0.5" fill="#fff" stroke="#8a8a8a" stroke-width="0.8"/>
<rect x="90.50" y="6.10" width="2.80" height="5.20" rx="0.5" fill="#fff" stroke="#8a8a8a" stroke-width="0.8"/>
<rect x="135.40" y="4.40" width="8.60" height="8.60" rx="0.6" fill="#fff" stroke="#7a7a7a" stroke-width="0.9"/>
<circle cx="139.70" cy="8.70" r="3.20" fill="none" stroke="#8a8a8a" stroke-width="0.9"/>
<path d="M35.60,-6.20 L39.40,-1.20 M39.60,-6.20 L35.80,-1.20" fill="none" stroke="#777" stroke-width="0.9" />
<ellipse cx="35.70" cy="-6.70" rx="1.0" ry="1.2" fill="#8a8a8a"/>
<ellipse cx="39.50" cy="-6.70" rx="1.0" ry="1.2" fill="#8a8a8a"/>
<path d="M115.90,-6.20 L119.70,-1.20 M119.90,-6.20 L116.10,-1.20" fill="none" stroke="#777" stroke-width="0.9" />
<ellipse cx="116.00" cy="-6.70" rx="1.0" ry="1.2" fill="#8a8a8a"/>
<ellipse cx="119.80" cy="-6.70" rx="1.0" ry="1.2" fill="#8a8a8a"/>
</g>
<line x1="345.50" y1="522.00" x2="441.80" y2="522.00" stroke="#333333" stroke-width="1.6"/>
<line x1="440.20" y1="522.00" x2="442.20" y2="522.00" stroke="#333333" stroke-width="2.2"/>
<line x1="345.50" y1="526.00" x2="441.80" y2="526.00" stroke="#c0394a" stroke-width="1.6"/>
<line x1="440.20" y1="526.00" x2="442.20" y2="526.00" stroke="#c0394a" stroke-width="2.2"/>
<line x1="345.50" y1="530.00" x2="441.80" y2="530.00" stroke="#a6bf5c" stroke-width="1.6"/>
<line x1="440.20" y1="530.00" x2="442.20" y2="530.00" stroke="#a6bf5c" stroke-width="2.2"/>
<line x1="345.50" y1="534.00" x2="441.80" y2="534.00" stroke="#2b89b6" stroke-width="1.6"/>
<line x1="440.20" y1="534.00" x2="442.20" y2="534.00" stroke="#2b89b6" stroke-width="2.2"/>
<text x="440.3" y="549.5" font-size="9.0" fill="#2e2e2e" font-weight="normal" text-anchor="start" textLength="81.5" lengthAdjust="spacingAndGlyphs" stroke="#2e2e2e" stroke-width="0.1" text-rendering="geometricPrecision">Лента до 5 метров</text>
<rect x="435.60" y="568.60" width="58.80" height="73.90" rx="0" fill="#fff" stroke="#8a8a8a" stroke-width="1.1"/>
<circle cx="443.70" cy="577.70" r="1.15" fill="#c8c8c8" stroke="#888" stroke-width="0.7"/>
<circle cx="485.90" cy="577.70" r="1.15" fill="#c8c8c8" stroke="#888" stroke-width="0.7"/>
<rect x="494.60" y="592.25" width="3.20" height="3.70" rx="0" fill="#f3f3f3" stroke="#a4a4a4" stroke-width="0.6"/>
<rect x="494.60" y="588.35" width="3.20" height="3.70" rx="0" fill="#f3f3f3" stroke="#a4a4a4" stroke-width="0.6"/>
<rect x="494.60" y="584.45" width="3.20" height="3.70" rx="0" fill="#f3f3f3" stroke="#a4a4a4" stroke-width="0.6"/>
<rect x="494.60" y="580.65" width="3.20" height="3.70" rx="0" fill="#f3f3f3" stroke="#a4a4a4" stroke-width="0.6"/>
<rect x="432.20" y="592.25" width="3.20" height="3.70" rx="0" fill="#f3f3f3" stroke="#a4a4a4" stroke-width="0.6"/>
<rect x="432.20" y="588.35" width="3.20" height="3.70" rx="0" fill="#f3f3f3" stroke="#a4a4a4" stroke-width="0.6"/>
<rect x="432.20" y="584.45" width="3.20" height="3.70" rx="0" fill="#f3f3f3" stroke="#a4a4a4" stroke-width="0.6"/>
<rect x="432.20" y="580.65" width="3.20" height="3.70" rx="0" fill="#f3f3f3" stroke="#a4a4a4" stroke-width="0.6"/>
<path d="M591.2,522.00 H658.10 V594.10 H494.2" fill="none" stroke="#333333" stroke-width="1.6" />
<line x1="590.80" y1="522.00" x2="592.80" y2="522.00" stroke="#333333" stroke-width="2.2"/>
<path d="M591.2,526.00 H653.90 V590.20 H494.2" fill="none" stroke="#c0394a" stroke-width="1.6" />
<line x1="590.80" y1="526.00" x2="592.80" y2="526.00" stroke="#c0394a" stroke-width="2.2"/>
<path d="M591.2,530.00 H649.60 V586.30 H494.2" fill="none" stroke="#a6bf5c" stroke-width="1.6" />
<line x1="590.80" y1="530.00" x2="592.80" y2="530.00" stroke="#a6bf5c" stroke-width="2.2"/>
<path d="M591.2,534.00 H645.70 V582.50 H494.2" fill="none" stroke="#2b89b6" stroke-width="1.6" />
<line x1="590.80" y1="534.00" x2="592.80" y2="534.00" stroke="#2b89b6" stroke-width="2.2"/>
<g transform="translate(185.60,579.60) translate(155.0,0) scale(-1,1)">
<path d="M0,0 H24.0 C25.6,4 25.6,13 24.3,17.3 H0 Z" fill="#fff" stroke="#8a8a8a" stroke-width="1.0" />
<path d="M26.4,0 H128.0 C129.6,4 129.6,13 128.3,17.3 H26.7 C28.0,13 28.0,4 26.4,0 Z" fill="#fff" stroke="#8a8a8a" stroke-width="1.0" />
<path d="M130.4,0 H155 V17.3 H130.7 C132.0,13 132.0,4 130.4,0 Z" fill="#fff" stroke="#8a8a8a" stroke-width="1.0" />
<circle cx="5.6" cy="2.90" r="0.55" fill="#aaa"/>
<circle cx="5.6" cy="6.95" r="0.55" fill="#aaa"/>
<circle cx="5.6" cy="11.00" r="0.55" fill="#aaa"/>
<circle cx="5.6" cy="15.05" r="0.55" fill="#aaa"/>
<circle cx="148.5" cy="2.90" r="0.55" fill="#aaa"/>
<rect x="151.90" y="2.00" width="2.40" height="1.80" rx="0.3" fill="#999" stroke="#777" stroke-width="0.5"/>
<circle cx="148.5" cy="6.95" r="0.55" fill="#aaa"/>
<rect x="151.90" y="6.05" width="2.40" height="1.80" rx="0.3" fill="#999" stroke="#777" stroke-width="0.5"/>
<circle cx="148.5" cy="11.00" r="0.55" fill="#aaa"/>
<rect x="151.90" y="10.10" width="2.40" height="1.80" rx="0.3" fill="#999" stroke="#777" stroke-width="0.5"/>
<circle cx="148.5" cy="15.05" r="0.55" fill="#aaa"/>
<rect x="151.90" y="14.15" width="2.40" height="1.80" rx="0.3" fill="#999" stroke="#777" stroke-width="0.5"/>
<rect x="10.80" y="4.40" width="8.60" height="8.60" rx="0.6" fill="#fff" stroke="#7a7a7a" stroke-width="0.9"/>
<circle cx="15.10" cy="8.70" r="3.20" fill="none" stroke="#8a8a8a" stroke-width="0.9"/>
<line x1="37.60" y1="0.00" x2="37.60" y2="17.30" stroke="#999" stroke-width="0.7"/>
<rect x="34.80" y="1.80" width="5.60" height="2.20" rx="0.5" fill="#fff" stroke="#7e7e7e" stroke-width="0.8"/>
<rect x="34.80" y="5.85" width="5.60" height="2.20" rx="0.5" fill="#fff" stroke="#7e7e7e" stroke-width="0.8"/>
<rect x="34.80" y="9.90" width="5.60" height="2.20" rx="0.5" fill="#fff" stroke="#7e7e7e" stroke-width="0.8"/>
<rect x="34.80" y="13.95" width="5.60" height="2.20" rx="0.5" fill="#fff" stroke="#7e7e7e" stroke-width="0.8"/>
<line x1="117.90" y1="0.00" x2="117.90" y2="17.30" stroke="#999" stroke-width="0.7"/>
<rect x="115.10" y="1.80" width="5.60" height="2.20" rx="0.5" fill="#fff" stroke="#7e7e7e" stroke-width="0.8"/>
<rect x="115.10" y="5.85" width="5.60" height="2.20" rx="0.5" fill="#fff" stroke="#7e7e7e" stroke-width="0.8"/>
<rect x="115.10" y="9.90" width="5.60" height="2.20" rx="0.5" fill="#fff" stroke="#7e7e7e" stroke-width="0.8"/>
<rect x="115.10" y="13.95" width="5.60" height="2.20" rx="0.5" fill="#fff" stroke="#7e7e7e" stroke-width="0.8"/>
<rect x="47.40" y="4.40" width="8.60" height="8.60" rx="0.6" fill="#fff" stroke="#7a7a7a" stroke-width="0.9"/>
<circle cx="51.70" cy="8.70" r="3.20" fill="none" stroke="#8a8a8a" stroke-width="0.9"/>
<rect x="74.20" y="4.40" width="8.60" height="8.60" rx="0.6" fill="#fff" stroke="#7a7a7a" stroke-width="0.9"/>
<circle cx="78.50" cy="8.70" r="3.20" fill="none" stroke="#8a8a8a" stroke-width="0.9"/>
<rect x="100.80" y="4.40" width="8.60" height="8.60" rx="0.6" fill="#fff" stroke="#7a7a7a" stroke-width="0.9"/>
<circle cx="105.10" cy="8.70" r="3.20" fill="none" stroke="#8a8a8a" stroke-width="0.9"/>
<rect x="61.00" y="6.10" width="2.80" height="5.20" rx="0.5" fill="#fff" stroke="#8a8a8a" stroke-width="0.8"/>
<rect x="66.70" y="6.10" width="2.80" height="5.20" rx="0.5" fill="#fff" stroke="#8a8a8a" stroke-width="0.8"/>
<rect x="90.50" y="6.10" width="2.80" height="5.20" rx="0.5" fill="#fff" stroke="#8a8a8a" stroke-width="0.8"/>
<rect x="135.40" y="4.40" width="8.60" height="8.60" rx="0.6" fill="#fff" stroke="#7a7a7a" stroke-width="0.9"/>
<circle cx="139.70" cy="8.70" r="3.20" fill="none" stroke="#8a8a8a" stroke-width="0.9"/>
<path d="M35.60,-6.20 L39.40,-1.20 M39.60,-6.20 L35.80,-1.20" fill="none" stroke="#777" stroke-width="0.9" />
<ellipse cx="35.70" cy="-6.70" rx="1.0" ry="1.2" fill="#8a8a8a"/>
<ellipse cx="39.50" cy="-6.70" rx="1.0" ry="1.2" fill="#8a8a8a"/>
<path d="M115.90,-6.20 L119.70,-1.20 M119.90,-6.20 L116.10,-1.20" fill="none" stroke="#777" stroke-width="0.9" />
<ellipse cx="116.00" cy="-6.70" rx="1.0" ry="1.2" fill="#8a8a8a"/>
<ellipse cx="119.80" cy="-6.70" rx="1.0" ry="1.2" fill="#8a8a8a"/>
</g>
<line x1="338.40" y1="594.10" x2="435.40" y2="594.10" stroke="#333333" stroke-width="1.6"/>
<line x1="338.00" y1="594.10" x2="340.00" y2="594.10" stroke="#333333" stroke-width="2.2"/>
<line x1="338.40" y1="590.20" x2="435.40" y2="590.20" stroke="#c0394a" stroke-width="1.6"/>
<line x1="338.00" y1="590.20" x2="340.00" y2="590.20" stroke="#c0394a" stroke-width="2.2"/>
<line x1="338.40" y1="586.30" x2="435.40" y2="586.30" stroke="#a6bf5c" stroke-width="1.6"/>
<line x1="338.00" y1="586.30" x2="340.00" y2="586.30" stroke="#a6bf5c" stroke-width="2.2"/>
<line x1="338.40" y1="582.50" x2="435.40" y2="582.50" stroke="#2b89b6" stroke-width="1.6"/>
<line x1="338.00" y1="582.50" x2="340.00" y2="582.50" stroke="#2b89b6" stroke-width="2.2"/>
<text x="185.0" y="609.3" font-size="9.0" fill="#2e2e2e" font-weight="normal" text-anchor="start" textLength="81.5" lengthAdjust="spacingAndGlyphs" stroke="#2e2e2e" stroke-width="0.1" text-rendering="geometricPrecision">Лента до 5 метров</text>
<rect x="258.70" y="630.90" width="7.30" height="1.70" rx="0" fill="#d8d8d8" stroke="#a0a0a0" stroke-width="0.7"/>
<rect x="258.70" y="639.50" width="7.30" height="1.70" rx="0" fill="#d8d8d8" stroke="#a0a0a0" stroke-width="0.7"/>
<rect x="266.00" y="628.60" width="7.00" height="14.40" rx="0" fill="#fff" stroke="#8a8a8a" stroke-width="1"/>
<path d="M273.00,629.10 L282.30,633.90 L282.30,637.50 L273.00,642.50" fill="#fff" stroke="#8a8a8a" stroke-width="1" />
<rect x="282.30" y="633.50" width="4.00" height="4.20" rx="0" fill="#eee" stroke="#8a8a8a" stroke-width="0.8"/>
<path d="M286.30,635.50 H329.52 A3.93,3.93 0 0 0 329.52,627.65 H311.28 A3.93,3.93 0 0 1 311.28,619.80 H340.60" fill="none" stroke="#808080" stroke-width="1.45" />
<rect x="339.00" y="617.60" width="1.60" height="4.40" rx="0" fill="#eee" stroke="#8a8a8a" stroke-width="0.7"/>
<rect x="340.60" y="613.40" width="58.60" height="29.20" rx="0" fill="#fff" stroke="#8a8a8a" stroke-width="1.1"/>
<rect x="399.60" y="624.45" width="3.20" height="3.70" rx="0" fill="#f3f3f3" stroke="#a4a4a4" stroke-width="0.6"/>
<rect x="399.60" y="628.25" width="3.20" height="3.70" rx="0" fill="#f3f3f3" stroke="#a4a4a4" stroke-width="0.6"/>
<rect x="432.20" y="624.45" width="3.20" height="3.70" rx="0" fill="#f3f3f3" stroke="#a4a4a4" stroke-width="0.6"/>
<rect x="432.20" y="628.25" width="3.20" height="3.70" rx="0" fill="#f3f3f3" stroke="#a4a4a4" stroke-width="0.6"/>
<line x1="400.00" y1="626.30" x2="435.40" y2="626.30" stroke="#c0394a" stroke-width="1.6"/>
<line x1="400.00" y1="630.10" x2="435.40" y2="630.10" stroke="#333333" stroke-width="1.6"/>
<text x="260.4" y="655.3" font-size="9.0" fill="#2e2e2e" font-weight="normal" text-anchor="start" textLength="54" lengthAdjust="spacingAndGlyphs" stroke="#2e2e2e" stroke-width="0.1" text-rendering="geometricPrecision">Сеть - 220 В</text>
<text x="340.5" y="655.3" font-size="9.0" fill="#2e2e2e" font-weight="normal" text-anchor="start" textLength="78" lengthAdjust="spacingAndGlyphs" stroke="#2e2e2e" stroke-width="0.1" text-rendering="geometricPrecision">Блок питания 12 В</text>
<text x="435.4" y="655.3" font-size="9.0" fill="#2e2e2e" font-weight="normal" text-anchor="start" textLength="66.5" lengthAdjust="spacingAndGlyphs" stroke="#2e2e2e" stroke-width="0.1" text-rendering="geometricPrecision">Усилитель RGB</text>
<text x="120.7" y="682.0" font-size="16.2" fill="#2a87b5" font-weight="normal" text-anchor="start" textLength="518.6" lengthAdjust="spacingAndGlyphs">Параллельное подключение 10 метров ленты с несколькими</text>
<text x="120.7" y="702.0" font-size="16.2" fill="#2a87b5" font-weight="normal" text-anchor="start" textLength="511.8" lengthAdjust="spacingAndGlyphs">источниками питания к контроллеру RGB и усилителю RGB</text>
</svg>
</body></html>
